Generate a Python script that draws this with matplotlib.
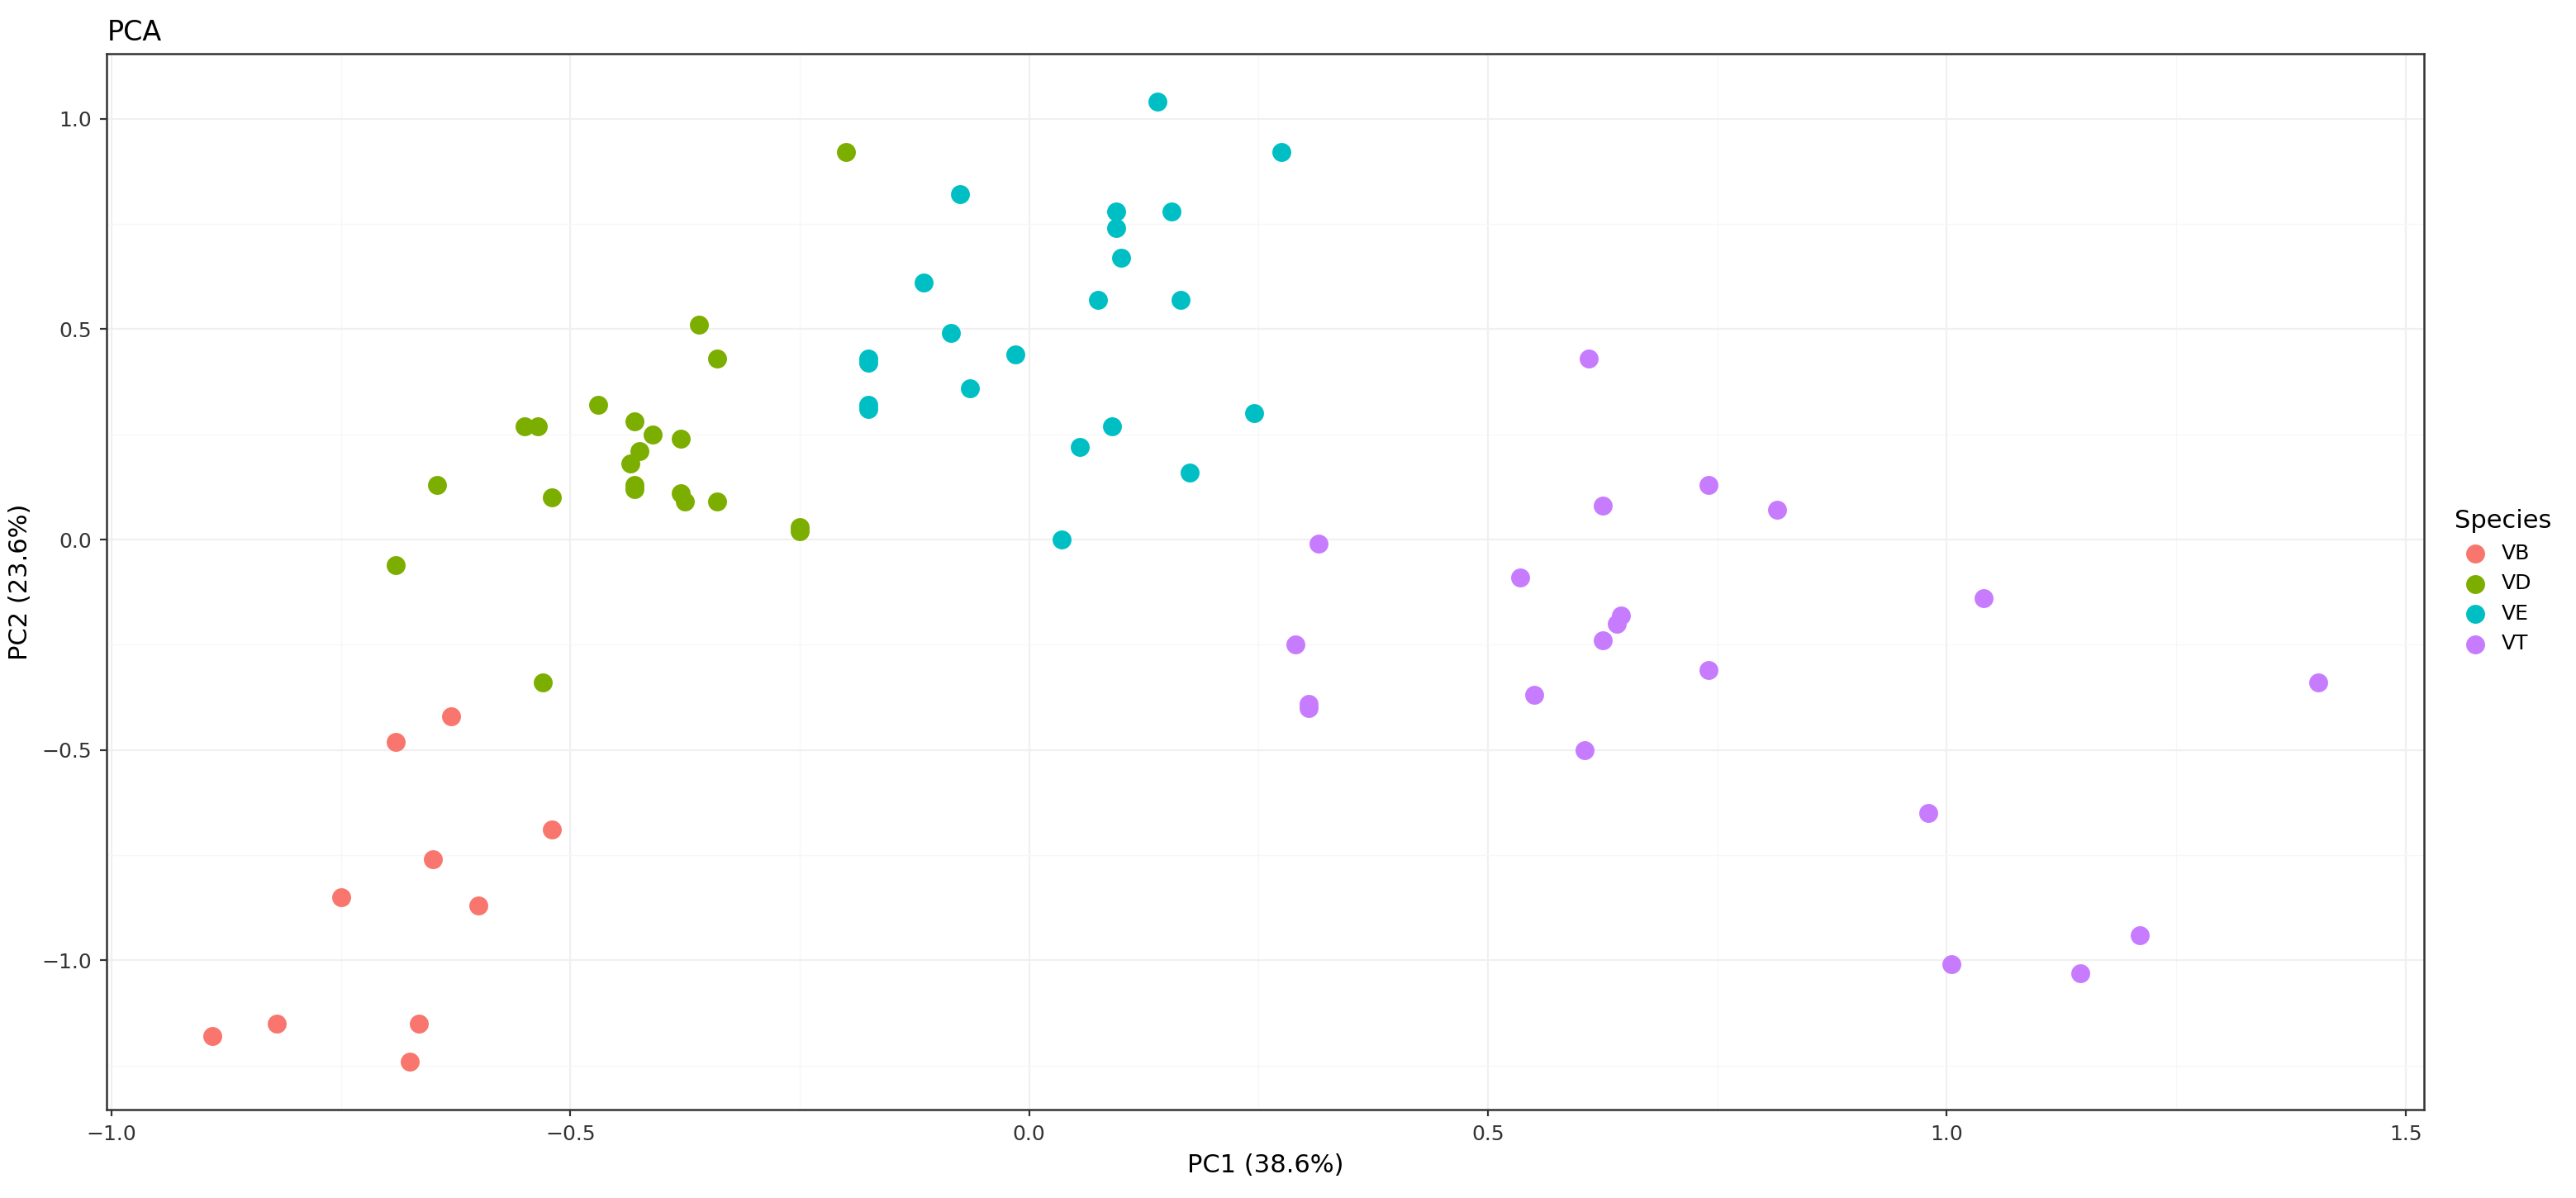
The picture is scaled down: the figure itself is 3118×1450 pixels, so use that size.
import matplotlib
matplotlib.use("Agg")
import matplotlib.pyplot as plt

species = ["VB", "VD", "VE", "VT"]
colors = ["#F8766D", "#7CAE00", "#00BFC4", "#C77CFF"]
vb_x = [-0.89, -0.82, -0.75, -0.69, -0.63, -0.65, -0.60, -0.52, -0.665, -0.675]
vb_y = [-1.18, -1.15, -0.85, -0.48, -0.42, -0.76, -0.87, -0.69, -1.15, -1.24]
vd_x = [-0.20, -0.36, -0.34, -0.47, -0.55, -0.535, -0.43, -0.425, -0.41, -0.435, -0.43, -0.43,
        -0.38, -0.38, -0.375, -0.34, -0.52, -0.645, -0.69, -0.25, -0.25, -0.53]
vd_y = [0.92, 0.51, 0.43, 0.32, 0.27, 0.27, 0.28, 0.21, 0.25, 0.18, 0.13, 0.12,
        0.24, 0.11, 0.09, 0.09, 0.10, 0.13, -0.06, 0.03, 0.02, -0.34]
ve_x = [0.14, 0.275, -0.075, 0.095, 0.155, 0.095, 0.10, -0.115, 0.075, 0.165, -0.085, -0.175,
        -0.175, -0.015, -0.065, -0.175, -0.175, 0.245, 0.09, 0.055, 0.175, 0.035]
ve_y = [1.04, 0.92, 0.82, 0.78, 0.78, 0.74, 0.67, 0.61, 0.57, 0.57, 0.49, 0.43,
        0.42, 0.44, 0.36, 0.31, 0.32, 0.30, 0.27, 0.22, 0.16, 0.0]
vt_x = [0.61, 0.74, 0.625, 0.815, 0.315, 0.535, 1.04, 0.645, 0.64, 0.29, 0.625, 0.74,
        0.305, 0.305, 0.55, 1.405, 0.605, 0.98, 1.21, 1.145, 1.005]
vt_y = [0.43, 0.13, 0.08, 0.07, -0.01, -0.09, -0.14, -0.18, -0.20, -0.25, -0.24, -0.31,
        -0.40, -0.39, -0.37, -0.34, -0.50, -0.65, -0.94, -1.03, -1.01]
xs = [vb_x, vd_x, ve_x, vt_x]
ys = [vb_y, vd_y, ve_y, vt_y]

fig = plt.figure(figsize=(15.59, 7.25), dpi=200)
ax = fig.add_axes([0.0415, 0.074, 0.8995, 0.881])
for s, c, x, y in zip(species, colors, xs, ys):
    ax.scatter(x, y, s=68, color=c, label=s, zorder=3, linewidths=0)
ax.set_xlim(-1.005, 1.52)
ax.set_ylim(-1.354, 1.154)
ax.set_xticks([-1.0, -0.5, 0.0, 0.5, 1.0, 1.5])
ax.set_yticks([-1.0, -0.5, 0.0, 0.5, 1.0])
ax.set_xticks([-0.75, -0.25, 0.25, 0.75, 1.25], minor=True)
ax.set_yticks([-1.25, -0.75, -0.25, 0.25, 0.75], minor=True)
ax.grid(True, which="major", color="#f0f0f0", lw=0.8)
ax.grid(True, which="minor", color="#f7f7f7", lw=0.5)
ax.tick_params(which="minor", length=0)
ax.tick_params(which="major", labelsize=9, colors="#333333", length=3)
for sp in ax.spines.values():
    sp.set_color("#333333")
    sp.set_linewidth(0.9)
ax.set_xlabel("PC1 (38.6%)", fontsize=11)
ax.set_ylabel("PC2 (23.6%)", fontsize=11)
ax.set_title("PCA", loc="left", fontsize=12, pad=6)
leg = ax.legend(title="Species", loc="center left", bbox_to_anchor=(1.005, 0.5),
                frameon=False, fontsize=9, title_fontsize=11, markerscale=1.0,
                handletextpad=0.3, alignment="left")
fig.savefig("out.png", dpi=200)
